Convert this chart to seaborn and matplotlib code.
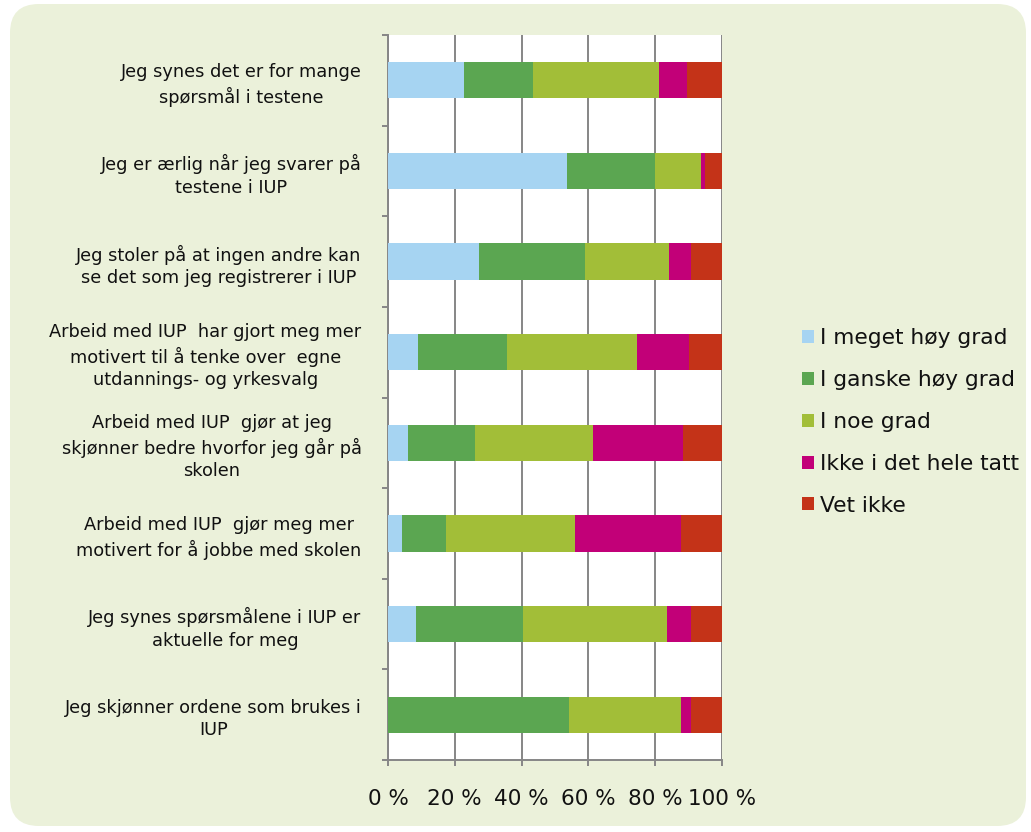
import numpy as np
import pandas as pd
import matplotlib
matplotlib.use("Agg")
import matplotlib.pyplot as plt
import seaborn as sns
from matplotlib.patches import FancyBboxPatch, Patch

categories = [
    "Jeg synes det er for mange\nspørsmål i testene",
    "Jeg er ærlig når jeg svarer på\ntestene i IUP",
    "Jeg stoler på at ingen andre kan\nse det som jeg registrerer i IUP",
    "Arbeid med IUP  har gjort meg mer\nmotivert til å tenke over  egne\nutdannings- og yrkesvalg",
    "Arbeid med IUP  gjør at jeg\nskjønner bedre hvorfor jeg går på\nskolen",
    "Arbeid med IUP  gjør meg mer\nmotivert for å jobbe med skolen",
    "Jeg synes spørsmålene i IUP er\naktuelle for meg",
    "Jeg skjønner ordene som brukes i\nIUP",
]
series_names = ["I meget høy grad", "I ganske høy grad", "I noe grad",
                "Ikke i det hele tatt", "Vet ikke"]
meget_hoy = [22.9, 53.5, 27.2, 9.1, 6.1, 4.3, 8.4, 0.0]
ganske_hoy = [20.4, 26.4, 31.7, 26.5, 19.9, 13.2, 32.0, 54.1]
noe_grad = [37.9, 13.8, 25.2, 38.9, 35.3, 38.4, 43.2, 33.7]
ikke = [8.2, 1.2, 6.5, 15.5, 26.9, 31.7, 7.0, 2.8]
vet_ikke = [10.6, 5.1, 9.4, 10.0, 11.8, 12.4, 9.4, 9.4]
tick_labels = ["0 %", "20 %", "40 %", "60 %", "80 %", "100 %"]
colors = ["#A6D4F2", "#5BA651", "#A2BE38", "#C20078", "#C43318"]

series = [meget_hoy, ganske_hoy, noe_grad, ikke, vet_ikke]
cum = np.cumsum(np.array(series), axis=0)
rows = []
for si, name in enumerate(series_names):
    for ci, cat in enumerate(categories):
        rows.append({"cat": cat, "series": name, "cum": cum[si, ci]})
df = pd.DataFrame(rows)

sns.set_theme(style="white")
plt.rcParams["font.family"] = ["DejaVu Sans"]

W, H = 1031, 832
fig = plt.figure(figsize=(W / 100, H / 100), dpi=100)
fig.patch.set_facecolor("white")
bg = FancyBboxPatch((10 / W, 6 / H), (1026 - 10) / W, (828 - 6) / H,
                    boxstyle="round,pad=0,rounding_size=0.028",
                    transform=fig.transFigure, facecolor="#EBF1DA",
                    edgecolor="none", zorder=-10, mutation_aspect=W / H)
fig.patches.append(bg)

ax = fig.add_axes([388 / W, 1 - 760 / H, (722 - 388) / W, (760 - 35) / H])
ax.set_zorder(2)
ax.set_facecolor("white")

for si in range(len(series_names) - 1, -1, -1):
    sub = df[df["series"] == series_names[si]]
    sns.barplot(data=sub, x="cum", y="cat", order=categories, color=colors[si],
                width=0.4, orient="h", ax=ax, saturation=1, edgecolor="none",
                zorder=3)

ax.set_xlim(0, 100)
ax.set_ylim(7.5, -0.5)
ax.set_xlabel("")
ax.set_ylabel("")

ax.set_xticks([0, 20, 40, 60, 80, 100])
ax.set_xticklabels(tick_labels, fontsize=15.5, color="#111111")
ax.xaxis.grid(True, color="#868686", linewidth=1.4, zorder=1)
ax.yaxis.grid(False)
ax.set_axisbelow(True)

ax.set_yticks(np.arange(-0.5, 8.0, 1.0))
ax.set_yticklabels([])
ax.set_yticks(np.arange(0, 8), minor=True)
ax.set_yticklabels(categories, minor=True, fontsize=12.8, color="#111111",
                   linespacing=1.33, multialignment="center")
ax.tick_params(axis="y", which="major", length=4, width=1.4, color="#868686",
               direction="out", left=True)
ax.tick_params(axis="y", which="minor", length=0, pad=19, left=True)
ax.tick_params(axis="x", which="major", length=4, width=1.4, color="#868686",
               direction="out", pad=17, bottom=True)

for s in ["top", "right"]:
    ax.spines[s].set_visible(False)
for s in ["left", "bottom"]:
    ax.spines[s].set_visible(True)
    ax.spines[s].set_color("#868686")
    ax.spines[s].set_linewidth(1.4)

handles = [Patch(facecolor=c, edgecolor="none") for c in colors]
fig.legend(handles, series_names, loc="center left",
           bbox_to_anchor=(791 / W, 1 - 422 / H), frameon=False,
           fontsize=15.7, handlelength=0.55, handleheight=0.55,
           handletextpad=0.3, labelspacing=1.0, borderpad=0,
           labelcolor="#111111")

fig.savefig("out.png", dpi=100, facecolor=fig.get_facecolor())
